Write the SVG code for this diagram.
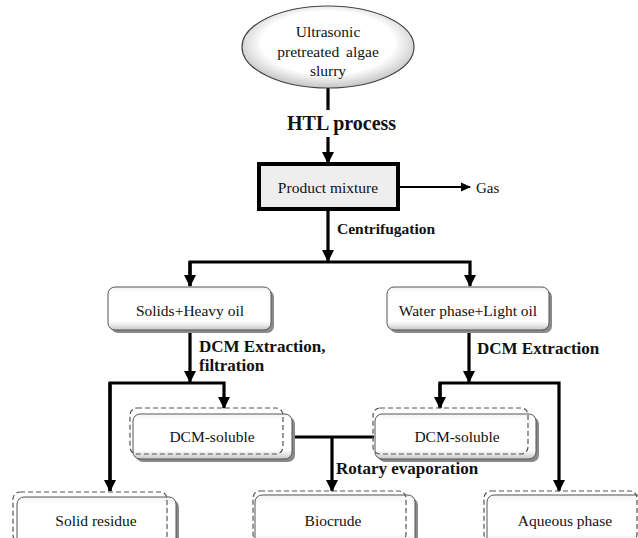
<svg xmlns="http://www.w3.org/2000/svg" width="638" height="538" viewBox="0 0 638 538" font-family="'Liberation Serif', 'DejaVu Serif', serif">
<style>
.n{font-size:15.5px;text-anchor:middle;fill:#111}
.b{font-size:17px;font-weight:bold;fill:#111}
.c{fill:none;stroke:#000;stroke-width:3.2}
.box{fill:url(#bev);stroke:#555;stroke-width:1}
.sh{fill:#8a8a8a}
.dash{fill:none;stroke:#555;stroke-width:1.2;stroke-dasharray:5,3}
</style>
<defs>
<marker id="ah" markerUnits="userSpaceOnUse" markerWidth="12" markerHeight="12" refX="11" refY="6" orient="auto">
<path d="M0,0 L12,6 L0,12 z" fill="#000"/>
</marker>
<marker id="ahs" markerUnits="userSpaceOnUse" markerWidth="10" markerHeight="10" refX="9" refY="5" orient="auto">
<path d="M0,0.5 L10,5 L0,9.5 z" fill="#000"/>
</marker>
<linearGradient id="bev" x1="0" y1="0" x2="0" y2="1">
<stop offset="0" stop-color="#f4f4f4"/>
<stop offset="0.15" stop-color="#fff"/>
<stop offset="0.8" stop-color="#fff"/>
<stop offset="1" stop-color="#c8c8c8"/>
</linearGradient>
<radialGradient id="ell" cx="0.5" cy="0.45" r="0.55">
<stop offset="0.7" stop-color="#fff"/>
<stop offset="1" stop-color="#c4c4c4"/>
</radialGradient>
</defs>

<g id="connectors">
<line class="c" x1="328" y1="88" x2="328" y2="110"/>
<line class="c" x1="328" y1="137" x2="328" y2="163" marker-end="url(#ah)"/>
<line x1="400" y1="187" x2="470" y2="187" stroke="#000" stroke-width="2" marker-end="url(#ahs)"/>
<line class="c" x1="328" y1="211" x2="328" y2="261" marker-end="url(#ah)"/>
<polyline class="c" points="190,286 190,262 470,262 470,286" marker-end="url(#ah)"/>
<line class="c" x1="190" y1="262" x2="190" y2="286" marker-end="url(#ah)"/>
<line class="c" x1="190" y1="332" x2="190" y2="382" marker-end="url(#ah)"/>
<polyline class="c" points="110,491 110,383 224,383 224,408" marker-end="url(#ah)"/>
<line class="c" x1="110" y1="383" x2="110" y2="491" marker-end="url(#ah)"/>
<line class="c" x1="469" y1="332" x2="469" y2="382" marker-end="url(#ah)"/>
<polyline class="c" points="440,408 440,383 559,383 559,491" marker-end="url(#ah)"/>
<line class="c" x1="440" y1="383" x2="440" y2="408" marker-end="url(#ah)"/>
<line class="c" x1="293" y1="437" x2="374" y2="437"/>
<line class="c" x1="332" y1="437" x2="332" y2="491" marker-end="url(#ah)"/>
</g>

<g id="labels" font-family="'Liberation Serif', 'DejaVu Serif', serif">
<text class="b" x="287" y="130" style="font-size:20px">HTL process</text>
<text class="b" x="337" y="234" style="font-size:15.5px">Centrifugation</text>
<text class="b" x="199" y="352">DCM Extraction,</text>
<text class="b" x="199" y="371">filtration</text>
<text class="b" x="477" y="354">DCM Extraction</text>
<text class="b" x="336" y="474">Rotary evaporation</text>
<text x="476" y="193" style="font-size:15px" fill="#111">Gas</text>
</g>

<g id="slurry" font-family="'Liberation Serif', 'DejaVu Serif', serif">
<ellipse cx="328" cy="47" rx="86" ry="41" fill="url(#ell)" stroke="#444" stroke-width="1.2"/>
<text class="n" x="328" y="37">Ultrasonic</text>
<text class="n" x="328" y="57" style="word-spacing:3px">pretreated algae</text>
<text class="n" x="328" y="76">slurry</text>
</g>

<g id="product-mixture" font-family="'Liberation Serif', 'DejaVu Serif', serif">
<rect x="259" y="164" width="139" height="45" fill="#eeeeee" stroke="#000" stroke-width="4"/>
<text class="n" x="328" y="193">Product mixture</text>
</g>

<g id="solids-heavy-oil" font-family="'Liberation Serif', 'DejaVu Serif', serif">
<rect class="sh" x="111" y="290" width="163" height="43" rx="7"/>
<rect class="box" x="108" y="287" width="163" height="43" rx="7"/>
<text class="n" x="190" y="316">Solids+Heavy oil</text>
</g>

<g id="water-light-oil" font-family="'Liberation Serif', 'DejaVu Serif', serif">
<rect class="sh" x="390" y="290" width="162" height="43" rx="7"/>
<rect class="box" x="387" y="287" width="162" height="43" rx="7"/>
<text class="n" x="468" y="316">Water phase+Light oil</text>
</g>

<g id="dcm-soluble-left" font-family="'Liberation Serif', 'DejaVu Serif', serif">
<rect class="sh" x="136" y="417" width="159" height="45" rx="7"/>
<rect class="box" x="133" y="414" width="159" height="45" rx="7"/>
<rect class="dash" x="130" y="408" width="153" height="46" rx="7"/>
<text class="n" x="212" y="442">DCM-soluble</text>
</g>

<g id="dcm-soluble-right" font-family="'Liberation Serif', 'DejaVu Serif', serif">
<rect class="sh" x="378" y="417" width="161" height="45" rx="7"/>
<rect class="box" x="375" y="414" width="161" height="45" rx="7"/>
<rect class="dash" x="373" y="408" width="155" height="46" rx="7"/>
<text class="n" x="457" y="442">DCM-soluble</text>
</g>

<g id="solid-residue" font-family="'Liberation Serif', 'DejaVu Serif', serif">
<rect class="sh" x="20" y="500" width="159" height="50" rx="7"/>
<rect class="box" x="17" y="497" width="159" height="50" rx="7"/>
<rect class="dash" x="13" y="492" width="154" height="50" rx="7"/>
<text class="n" x="96" y="526">Solid residue</text>
</g>

<g id="biocrude" font-family="'Liberation Serif', 'DejaVu Serif', serif">
<rect class="sh" x="258" y="498" width="160" height="50" rx="7"/>
<rect class="box" x="255" y="495" width="160" height="50" rx="7"/>
<rect class="dash" x="253" y="491" width="153" height="50" rx="7"/>
<text class="n" x="333" y="526">Biocrude</text>
</g>

<g id="aqueous-phase" font-family="'Liberation Serif', 'DejaVu Serif', serif">
<rect class="sh" x="490" y="498" width="160" height="50" rx="7"/>
<rect class="box" x="487" y="495" width="160" height="50" rx="7"/>
<rect class="dash" x="484" y="491" width="153" height="50" rx="7"/>
<text class="n" x="565" y="526">Aqueous phase</text>
</g>
</svg>
